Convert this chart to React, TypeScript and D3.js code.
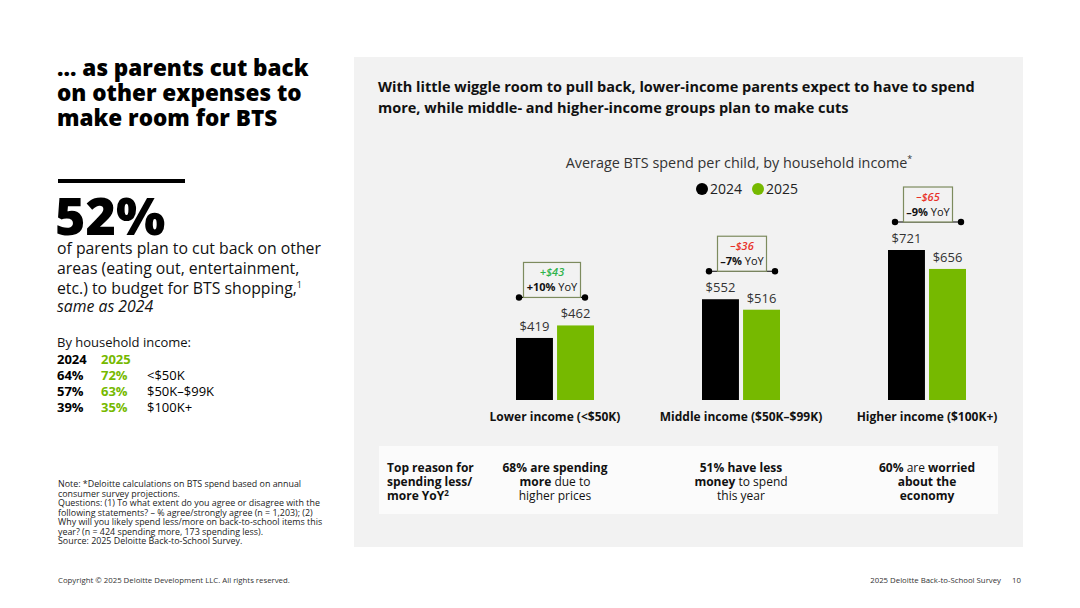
import React from "react";
import * as d3 from "d3";

const categories = ["Lower income (<$50K)", "Middle income ($50K–$99K)", "Higher income ($100K+)"];
const years = ["2024", "2025"];
const spend2024 = [419, 552, 721];
const spend2025 = [462, 516, 656];
const deltaDollar = ["+$43", "–$36", "–$65"];
const deltaPct = ["+10%", "–7%", "–9%"];

const incomeRows = ["<$50K", "$50K–$99K", "$100K+"];
const cut2024 = ["64%", "57%", "39%"];
const cut2025 = ["72%", "63%", "35%"];

const GREEN = "#76b900";
const FONT = "'Open Sans', 'Noto Sans', sans-serif";

export default function App() {
  const x0 = d3.scaleBand<string>().domain(categories).range([462, 1020]).padding(0);
  const x1 = d3.scaleBand<string>().domain(years).range([0, 78]).paddingInner(0.1);
  const y = d3.scaleLinear().domain([0, 800]).range([460, 460 - 233]);
  const baseline = 400;
  const groupOffset = (x0.bandwidth() - 78) / 2;

  const notes = [
    "Note: *Deloitte calculations on BTS spend based on annual",
    "consumer survey projections.",
    "Questions: (1) To what extent do you agree or disagree with the",
    "following statements? – % agree/strongly agree (n = 1,203); (2)",
    "Why will you likely spend less/more on back-to-school items this",
    "year? (n = 424 spending more, 173 spending less).",
    "Source: 2025 Deloitte Back-to-School Survey.",
  ];

  return (
    <svg width={1080} height={608} style={{ position: "absolute", left: 0, top: 0, background: "#fff" }} fontFamily={FONT}>
      <rect x={0} y={0} width={1080} height={608} fill="#fff" />
      {/* Left column */}
      <g fill="#000" fontWeight={800} fontSize={22.5}>
        <text x={57} y={76}>... as parents cut back</text>
        <text x={57} y={101}>on other expenses to</text>
        <text x={57} y={126}>make room for BTS</text>
      </g>
      <rect x={58} y={179} width={127} height={4} fill="#000" />
      <text x={55} y={235} fontSize={52} fontWeight={800} fill="#000">52%</text>
      <g fontSize={15.8} fill="#111">
        <text x={57} y={254}>of parents plan to cut back on other</text>
        <text x={57} y={274}>areas (eating out, entertainment,</text>
        <text x={57} y={294}>etc.) to budget for BTS shopping,<tspan fontSize={9} dy={-6}>1</tspan></text>
        <text x={57} y={312} fontStyle="italic">same as 2024</text>
      </g>
      <text x={57} y={347} fontSize={13} fill="#111">By household income:</text>
      <g fontSize={13} fontWeight={700}>
        <text x={57} y={364} fill="#000">2024</text>
        <text x={101} y={364} fill={GREEN}>2025</text>
        {incomeRows.map((r, i) => (
          <g key={r}>
            <text x={57} y={380 + i * 16} fill="#000">{cut2024[i]}</text>
            <text x={101} y={380 + i * 16} fill={GREEN}>{cut2025[i]}</text>
            <text x={147} y={380 + i * 16} fill="#000" fontWeight={400}>{r}</text>
          </g>
        ))}
      </g>
      <g fontSize={8.9} fill="#222">
        {notes.map((n, i) => (
          <text key={i} x={58} y={487 + i * 9.5}>{n}</text>
        ))}
      </g>
      <text x={58} y={583} fontSize={7.8} fill="#333">Copyright © 2025 Deloitte Development LLC. All rights reserved.</text>
      <text x={1001} y={583} fontSize={7.8} fill="#333" textAnchor="end">2025 Deloitte Back-to-School Survey</text>
      <text x={1021} y={583} fontSize={7.8} fill="#333" textAnchor="end">10</text>

      {/* Right panel */}
      <rect x={354} y={57} width={669} height={490} fill="#f2f2f2" />
      <g fontSize={14.5} fontWeight={700} fill="#111">
        <text x={378} y={92}>With little wiggle room to pull back, lower-income parents expect to have to spend</text>
        <text x={378} y={113}>more, while middle- and higher-income groups plan to make cuts</text>
      </g>
      <text x={739} y={168} fontSize={14.4} fill="#333" textAnchor="middle">
        Average BTS spend per child, by household income<tspan fontSize={9} dy={-6}>*</tspan>
      </text>
      <g fontSize={14} fill="#222">
        <circle cx={702} cy={189} r={6} fill="#000" />
        <text x={710} y={194}>2024</text>
        <circle cx={758} cy={189} r={6} fill={GREEN} />
        <text x={766} y={194}>2025</text>
      </g>

      {categories.map((c, i) => {
        const gx = (x0(c) ?? 0) + groupOffset;
        const vals = [spend2024[i], spend2025[i]];
        const gc = (x0(c) ?? 0) + x0.bandwidth() / 2;
        const up = deltaDollar[i].startsWith("+");
        const cx = up ? gc - 3 : gc + 1;
        const topY = y(Math.max(...vals));
        const by = topY - 28;
        const bw = up ? 57 : 49;
        return (
          <g key={c}>
            {vals.map((v, j) => {
              const bx = gx + (x1(years[j]) ?? 0);
              return (
                <g key={j}>
                  <rect x={bx} y={y(v)} width={x1.bandwidth()} height={baseline - y(v)} fill={j === 0 ? "#000" : GREEN} />
                  <text x={bx + x1.bandwidth() / 2} y={y(v) - 7} fontSize={13} fill="#333" textAnchor="middle">${v}</text>
                </g>
              );
            })}
            <line x1={cx - 33} x2={cx + 33} y1={by} y2={by} stroke="#000" strokeWidth={1.2} />
            <circle cx={cx - 33} cy={by} r={3.2} fill="#000" />
            <circle cx={cx + 33} cy={by} r={3.2} fill="#000" />
            <rect x={cx - bw / 2} y={by - 35} width={bw} height={35} fill="#f2f2f2" stroke="#7d8b5e" strokeWidth={1.2} />
            <text x={cx} y={by - 21} fontSize={11} fontStyle="italic" fontWeight={600} fill={up ? "#2fb34a" : "#e8322b"} textAnchor="middle">{deltaDollar[i]}</text>
            <text x={cx} y={by - 6} fontSize={11} fill="#111" textAnchor="middle">
              <tspan fontWeight={700}>{deltaPct[i]}</tspan> YoY
            </text>
            <text x={gc} y={421} fontSize={12} fontWeight={700} fill="#111" textAnchor="middle">{c}</text>
          </g>
        );
      })}

      {/* Reason box */}
      <rect x={379} y={446} width={619} height={68} fill="#fbfbfb" />
      <g fontSize={12} fill="#111">
        <g fontWeight={700}>
          <text x={387} y={472}>Top reason for</text>
          <text x={387} y={486}>spending less/</text>
          <text x={387} y={500}>more YoY<tspan fontSize={8} dy={-4}>2</tspan></text>
        </g>
        <g textAnchor="middle">
          <text x={555} y={472} fontWeight={700}>68% are spending</text>
          <text x={555} y={486}><tspan fontWeight={700}>more</tspan> due to</text>
          <text x={555} y={500}>higher prices</text>
          <text x={741} y={472} fontWeight={700}>51% have less</text>
          <text x={741} y={486}><tspan fontWeight={700}>money</tspan> to spend</text>
          <text x={741} y={500}>this year</text>
          <text x={927} y={472}><tspan fontWeight={700}>60%</tspan> are <tspan fontWeight={700}>worried</tspan></text>
          <text x={927} y={486} fontWeight={700}>about the</text>
          <text x={927} y={500} fontWeight={700}>economy</text>
        </g>
      </g>
    </svg>
  );
}
